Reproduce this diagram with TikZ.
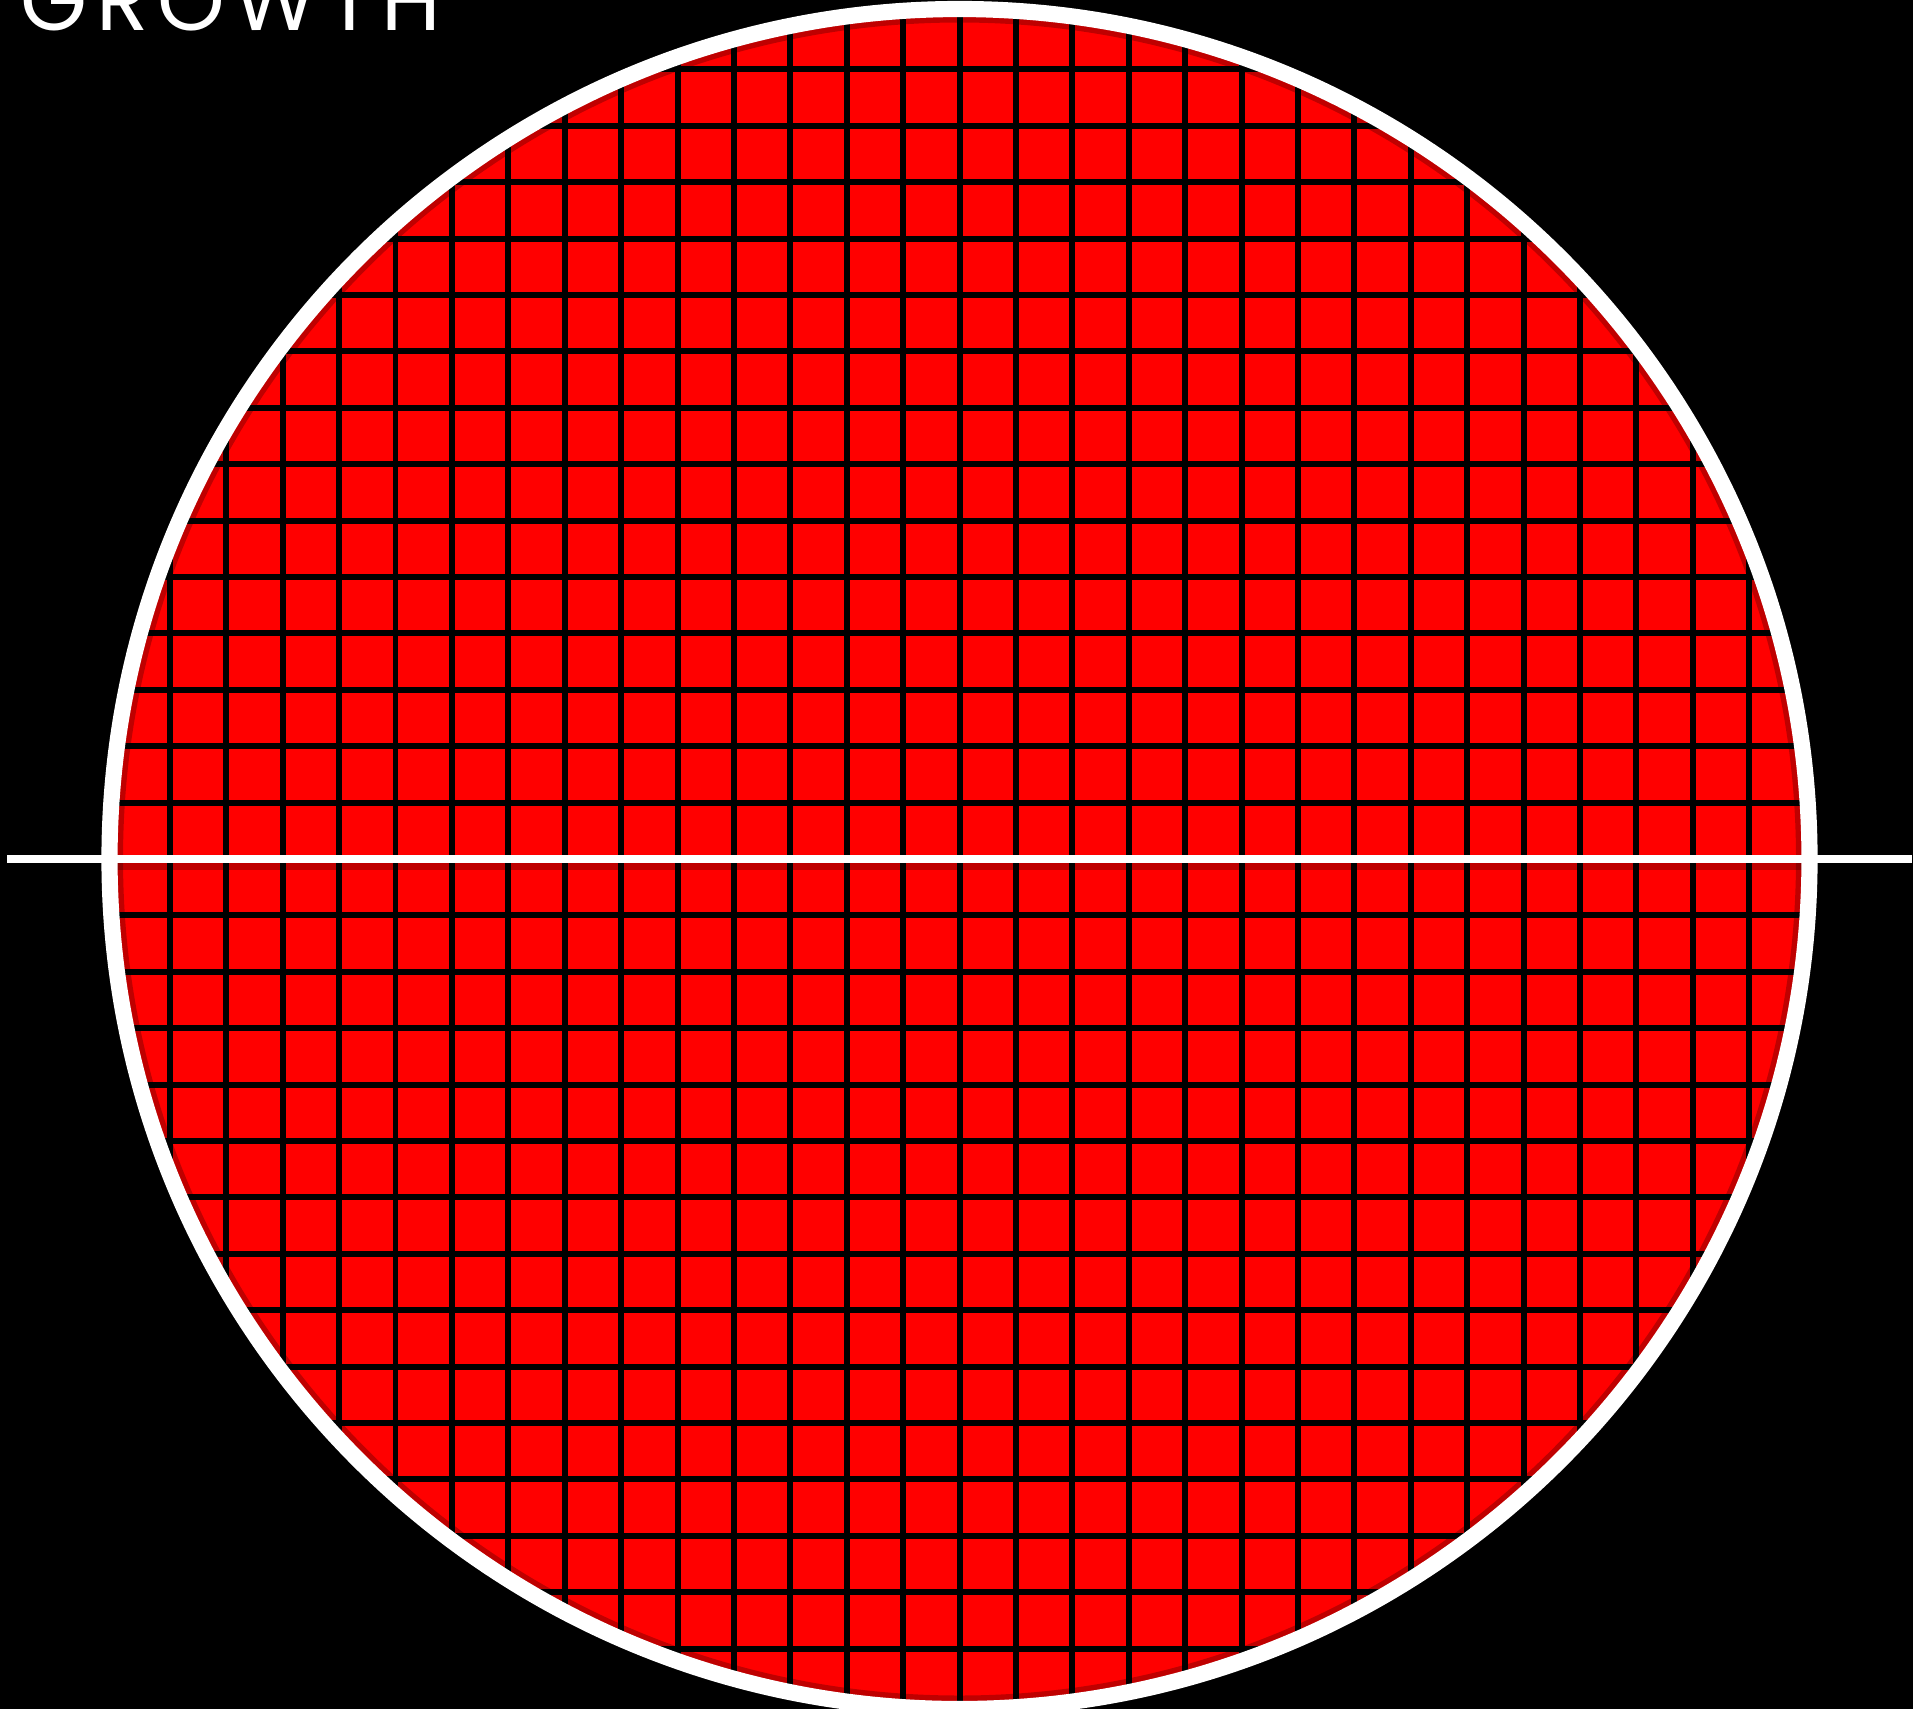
\documentclass[tikz,border=0pt]{standalone}
\usepackage{fontspec}
\setmainfont{Poppins}
\newfontfamily\titlefont[LetterSpace=10]{Poppins}
\definecolor{plateRed}{HTML}{FF0000}

\begin{document}
\begin{tikzpicture}[
    x=0.01cm, y=-0.01cm,
    ring/.style={draw=white, line width=4.6pt},
    gridline/.style={draw=black, line width=1.7pt},
    equator/.style={draw=white, line width=2.3pt},
    title/.style={text=white, inner sep=0pt, anchor=base west,
                  font=\titlefont\fontsize{24.5}{24.5}\selectfont}
  ]
  \useasboundingbox[fill=black] (0,0) rectangle (1913,1709);
  \coordinate (ctr) at (959.5,859);

  % red disc with square grid
  \begin{scope}
    \clip (ctr) circle[radius=850];
    \fill[plateRed] (ctr) circle[radius=850];
    \foreach \k in {-16,...,16}{
      \draw[gridline] ({959.5+\k*56.4},0) -- ({959.5+\k*56.4},1709);
      \draw[gridline] (0,{859+\k*56.4}) -- (1913,{859+\k*56.4});
    }
    % soft shadows
    \draw[black, opacity=0.25, line width=2pt] (ctr) circle[radius=840];
    \draw[black, opacity=0.25, line width=2pt] (0,866) -- (1913,866);
  \end{scope}

  \draw[ring] (ctr) circle[radius=850];

  \coordinate (eqW) at (7,859);
  \coordinate (eqE) at (1912,859);
  \draw[equator] (eqW) -- (eqE);

  \node[title] (growth) at (20,31) {GROWTH};
\end{tikzpicture}
\end{document}
